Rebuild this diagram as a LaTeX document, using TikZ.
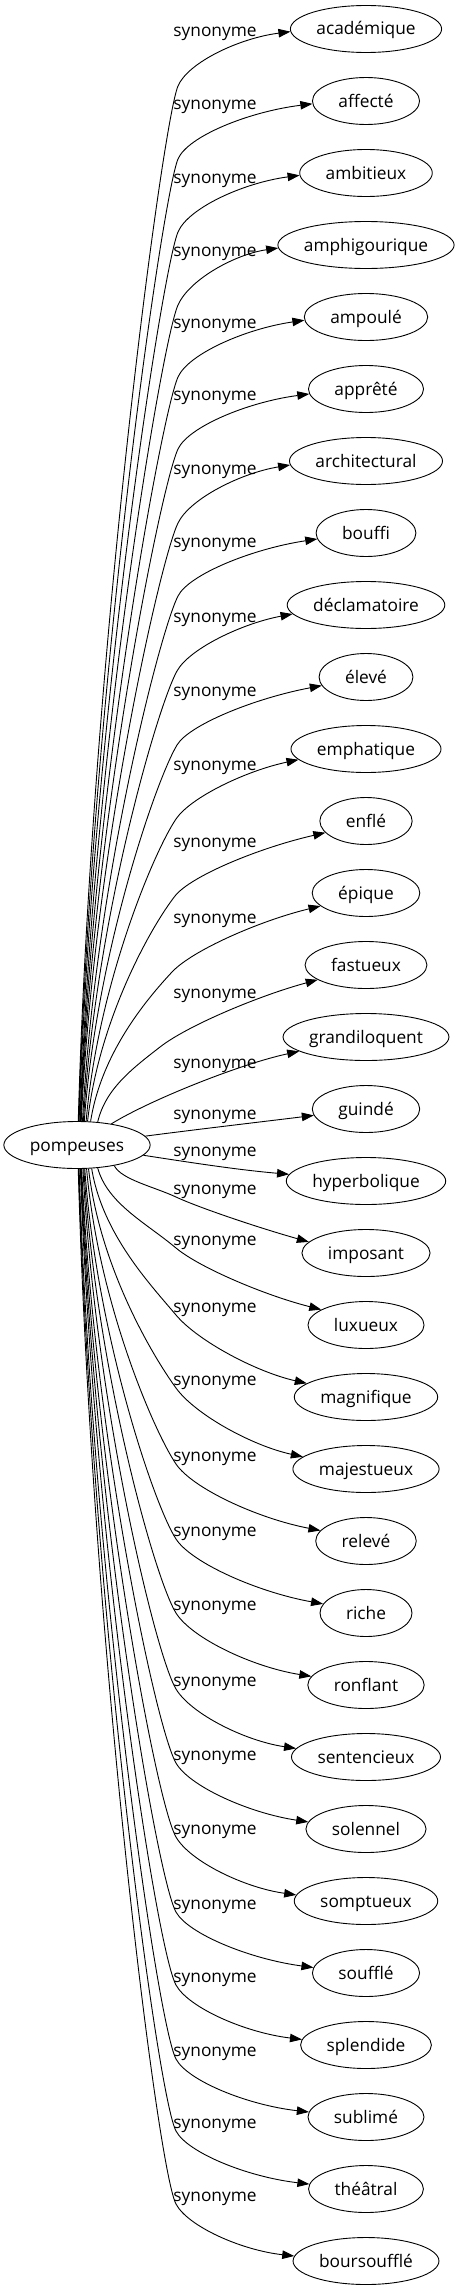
\documentclass[tikz,border=0pt]{standalone}
\usepackage{fontspec}
\setmainfont{Open Sans}
\usetikzlibrary{arrows.meta,shapes.geometric}
\newcommand{\gfont}{\fontsize{17.3}{20}\selectfont}
\newcommand{\gdata}{
 0/académique/29/32/1/1/178/67/3/0.12,
 1/affecté/101/105/1/1.5/178/67/3/0.12,
 2/ambitieux/173/178/1/2/178/67/3/0.12,
 3/amphigourique/245/251/1/2.5/178/66/4/0.12,
 4/ampoulé/317/323/1/3/178/66/4/0.13,
 5/apprêté/389/395/1/3.5/178/65/5/0.13,
 6/architectural/461/469/1/4/178/64/5/0.14,
 7/bouffi/533/542/1/5/178/63/6/0.15,
 8/déclamatoire/605/617/1/6/177/61/10/0.16,
 9/élevé/677/691/1/7/177/59/9/0.18,
 10/emphatique/749/765/1/8.5/176/56/11/0.2,
 11/enflé/821/842/1/10/175/52/12/0.22,
 12/épique/893/918/1/13/172/47/13/0.24,
 13/fastueux/965/993/1/20/160/38/15/0.26,
 14/grandiloquent/1037/1063/0/0/0/0/0/0,
 15/guindé/1109/1114/0/0/0/0/0/0,
 16/hyperbolique/1181/1151/0/0/0/0/0/0,
 17/imposant/1253/1189/-1/36/176/25/11/0.28,
 18/luxueux/1325/1240/-1/20/176/40/15/0.26,
 19/magnifique/1397/1307/-1/14/176/50/13/0.24,
 20/majestueux/1469/1380/-1/11/176/54/12/0.22,
 21/relevé/1541/1456/-1/9/176/56/10/0.2,
 22/riche/1613/1531/-1/7.5/176/57/9/0.18,
 23/ronflant/1685/1605/-1/6.5/176/58/8/0.17,
 24/sentencieux/1757/1681/-1/5.5/176/59/8/0.16,
 25/solennel/1829/1755/-1/4.5/176/60/7/0.15,
 26/somptueux/1901/1829/-1/4/176/60/6/0.14,
 27/soufflé/1973/1904/-1/3.5/176/61/5/0.14,
 28/splendide/2045/1977/-1/3/176/61/5/0.13,
 29/sublimé/2117/2051/-1/2/176/62/4/0.13,
 30/théâtral/2189/2123/-1/1.5/176/62/4/0.13,
 31/boursoufflé/2261/2196/-1/1/176/62/4/0.13}
\AtBeginDocument{%
  \setbox0\hbox{\gfont pompeuses}%
  \pgfmathsetmacro\tmpw{\the\wd0+52}\xdef\pw{\tmpw}%
  \foreach \i/\txt/\yn/\yl/\side/\ddx/\qx/\alp/\eo/\slope in \gdata {%
    \setbox0\hbox{\gfont\txt}%
    \pgfmathsetmacro\tmpw{\the\wd0+52}%
    \expandafter\xdef\csname gw\i\endcsname{\tmpw}}%
}
\begin{document}
\begin{tikzpicture}[x=1pt,y=-1pt,
  gnode/.style={draw, ellipse, inner sep=0pt, minimum height=47pt, text height=16pt, text depth=4pt, line width=0.9pt, font=\gfont},
  glabel/.style={inner sep=0pt, anchor=base, font=\gfont},
  gedge/.style={line width=0.9pt, -{Triangle[length=12pt,width=8.5pt]}}]
\useasboundingbox (0,0) rectangle (465,2291);
\node[gnode, minimum width=\pw pt] (p) at (77,1145) {pompeuses};
\foreach \i/\txt/\yn/\yl/\side/\ddx/\qx/\alp/\eo/\slope in \gdata {
  \edef\w{\csname gw\i\endcsname}
  \node[gnode, minimum width=\w pt] (n\i) at (366,\yn) {\txt};
  \node[glabel] (l\i) at (215,\yl+5) {synonyme};
  \ifnum\side=0\relax\else
    \pgfmathsetmacro\vSyo{23.5*sqrt(1-(\ddx/(\pw/2))^2)}
    \pgfmathsetmacro\vSx{77+\ddx}
    \pgfmathsetmacro\vSy{1145-(\side)*\vSyo}
    \pgfmathsetmacro\vthS{(\side)*atan2(\vSyo,\ddx)}
    \pgfmathsetmacro\vQx{\qx}
    \pgfmathsetmacro\vQy{\yl+31+23*(\side)}
    \pgfmathsetmacro\vh{(\side)*(\vSy-\vQy)}
    \pgfmathsetmacro\vtilt{0.3*(\vQx-\vSx)/\vh}
    \pgfmathsetmacro\vAx{\vSx+0.45*\vh*\vtilt}
    \pgfmathsetmacro\vAy{\vSy-(\side)*0.45*\vh}
    \pgfmathsetmacro\vchord{100*veclen((\vQx-\vSx)/100,\vh/100)}
    \pgfmathsetmacro\vbq{min(40,0.35*\vchord)}
    \pgfmathsetmacro\vBx{\vQx-\vbq*cos(\alp)}
    \pgfmathsetmacro\vBy{\vQy+(\side)*\vbq*sin(\alp)}
    \pgfmathsetmacro\vxo{(\w/2)*sqrt(1-(\eo/23.5)^2)}
    \pgfmathsetmacro\vTx{366-\vxo}
    \pgfmathsetmacro\vTy{\yn+(\side)*\eo}
    \pgfmathsetmacro\vphi{180+(\side)*atan2(\eo,\vxo)}
    \pgfmathsetmacro\vs{((\side)*(\vQy-\vTy)-\slope*(\vTx-\vQx))/(sin(\alp)-\slope*cos(\alp))}
    \pgfmathsetmacro\vu{\vTx-\vQx-\vs*cos(\alp)}
    \pgfmathsetmacro\vDx{\vQx+0.55*\vs*cos(\alp)}
    \pgfmathsetmacro\vDy{\vQy-(\side)*0.55*\vs*sin(\alp)}
    \pgfmathsetmacro\vEx{\vTx-0.55*\vu}
    \pgfmathsetmacro\vEy{\vTy+(\side)*0.55*\vu*\slope}
    \draw[gedge] (p.\vthS) .. controls (\vAx,\vAy) and (\vBx,\vBy) .. (\vQx,\vQy)
       .. controls (\vDx,\vDy) and (\vEx,\vEy) .. (n\i.\vphi);
  \fi
}
\draw[gedge] (p) .. controls (150,1100) and (240,1064) .. (n14);
\draw[gedge] (p) .. controls (200,1129) and (260,1122) .. (n15);
\draw[gedge] (p) .. controls (200,1164) and (240,1170) .. (n16);
\end{tikzpicture}
\end{document}
